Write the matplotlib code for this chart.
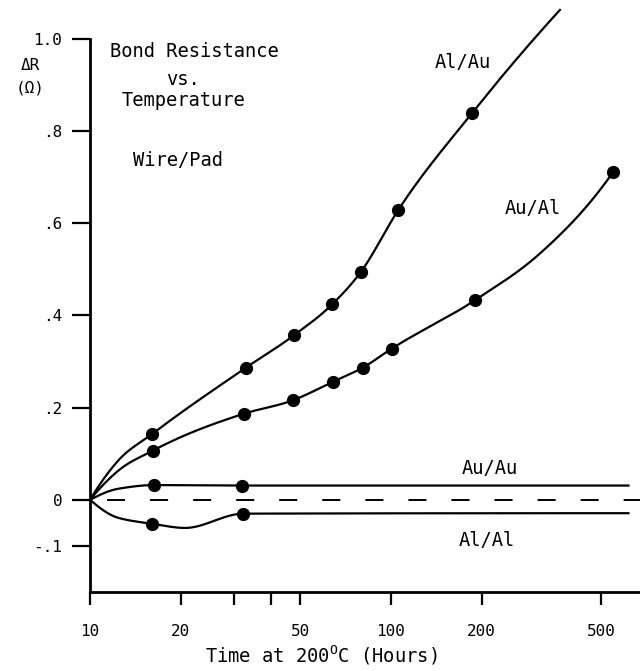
import numpy as np
import matplotlib
matplotlib.use("Agg")
import matplotlib.pyplot as plt
from matplotlib.ticker import FixedLocator, NullFormatter

plt.rcParams['font.family'] = ['DejaVu Sans Mono', 'DejaVu Sans']
plt.rcParams['mathtext.fontset'] = 'custom'
plt.rcParams['mathtext.rm'] = 'DejaVu Sans Mono'
plt.rcParams['lines.scale_dashes'] = False

# measured points: hours at 200 C, delta R (ohm)
alau_hours = [16.1, 33.0, 47.6, 63.7, 79.3, 105.5, 185.7]
alau_dr = [0.143, 0.287, 0.357, 0.424, 0.494, 0.628, 0.839]
aual_hours = [16.2, 32.5, 47.2, 64.1, 80.7, 100.5, 190.0, 547.0]
aual_dr = [0.107, 0.187, 0.216, 0.256, 0.287, 0.328, 0.433, 0.711]
auau_hours = [16.3, 32.0]
auau_dr = [0.032, 0.031]
alal_hours = [16.1, 32.3]
alal_dr = [-0.052, -0.030]

# extra points (start, bends, ends)
alau_trace_hours = [10.0, 12.4, 364.0]
alau_trace_dr = [0.0, 0.085, 1.063]
aual_trace_hours = [10.0, 12.4, 313.0, 494.0]
aual_trace_dr = [0.0, 0.063, 0.535, 0.672]
auau_trace_hours = [10.0, 12.4, 615.0]
auau_trace_dr = [0.0, 0.024, 0.031]
alal_trace_hours = [10.0, 12.4, 20.7, 615.0]
alal_trace_dr = [0.0, -0.039, -0.061, -0.029]

zero_line_from = 11.4

x_ticks = [10, 20, 50, 100, 200, 500]
x_minor = [30, 40]
y_ticks = [1.0, 0.8, 0.6, 0.4, 0.2, 0.0, -0.1]
y_labels = ['1.0', '.8', '.6', '.4', '.2', '0', '-.1']


def hermite(x, y, xs, limited):
    # cubic hermite through the points; limited=True keeps flat parts flat
    x = np.asarray(x, float)
    y = np.asarray(y, float)
    h = np.diff(x)
    d = np.diff(y) / h
    n = len(x)
    m = np.zeros(n)
    for i in range(1, n - 1):
        if limited:
            if d[i - 1] * d[i] > 0:
                w1 = 2 * h[i] + h[i - 1]
                w2 = h[i] + 2 * h[i - 1]
                m[i] = (w1 + w2) / (w1 / d[i - 1] + w2 / d[i])
        else:
            m[i] = (d[i - 1] * h[i] + d[i] * h[i - 1]) / (h[i - 1] + h[i])

    def end(h0, h1, d0, d1):
        mm = ((2 * h0 + h1) * d0 - h0 * d1) / (h0 + h1)
        if np.sign(mm) != np.sign(d0):
            mm = 0.0
        elif np.sign(d0) != np.sign(d1) and abs(mm) > 3 * abs(d0):
            mm = 3 * d0
        return mm

    m[0] = end(h[0], h[1], d[0], d[1])
    m[-1] = end(h[-1], h[-2], d[-1], d[-2])
    k = np.clip(np.searchsorted(x, xs) - 1, 0, n - 2)
    t = (xs - x[k]) / h[k]
    h00 = 2 * t**3 - 3 * t**2 + 1
    h10 = t**3 - 2 * t**2 + t
    h01 = -2 * t**3 + 3 * t**2
    h11 = t**3 - t**2
    return h00 * y[k] + h10 * h[k] * m[k] + h01 * y[k + 1] + h11 * h[k] * m[k + 1]


def draw_series(ax, hours, dr, trace_hours, trace_dr, limited=False):
    hx = np.concatenate([hours, trace_hours])
    hy = np.concatenate([dr, trace_dr])
    order = np.argsort(hx)
    u = np.log10(hx[order])
    uu = np.linspace(u[0], u[-1], 400)
    ax.plot(10**uu, hermite(u, hy[order], uu, limited), color='black', lw=1.6,
            clip_on=False)
    ax.plot(hours, dr, 'o', color='black', ms=8.5, zorder=3, clip_on=False)


fig = plt.figure(figsize=(6.4, 6.71), dpi=100)
ax = fig.add_axes([90 / 640, 79 / 671, 550 / 640, 553 / 671])

x_max = 10 ** (1 + 550 / 301)
ax.set_xscale('log')
ax.set_xlim(10, x_max)
ax.set_ylim(-0.2, 1.0)

draw_series(ax, alau_hours, alau_dr, alau_trace_hours, alau_trace_dr)
draw_series(ax, aual_hours, aual_dr, aual_trace_hours, aual_trace_dr)
draw_series(ax, auau_hours, auau_dr, auau_trace_hours, auau_trace_dr, limited=True)
draw_series(ax, alal_hours, alal_dr, alal_trace_hours, alal_trace_dr, limited=True)

ax.plot([zero_line_from, x_max], [0, 0], color='black', lw=1.4, dashes=(13, 18))

for s in ['top', 'right']:
    ax.spines[s].set_visible(False)
for s in ['left', 'bottom']:
    ax.spines[s].set_linewidth(2)

ax.xaxis.set_major_locator(FixedLocator(x_ticks))
ax.xaxis.set_minor_locator(FixedLocator(x_minor))
ax.xaxis.set_minor_formatter(NullFormatter())
ax.set_xticklabels([str(v) for v in x_ticks])
ax.set_yticks(y_ticks)
ax.set_yticklabels(y_labels)
ax.tick_params(axis='x', which='both', direction='out', length=9, width=1.6,
               pad=14, labelsize=11.5)
ax.tick_params(axis='y', direction='out', length=13, width=1.6, pad=7,
               labelsize=11.5)

lbl = dict(fontsize=13.5, ha='center', va='center')
ax.text(22.3, 0.972, 'Bond Resistance', **lbl)
ax.text(20.4, 0.913, 'vs.', **lbl)
ax.text(20.4, 0.867, 'Temperature', **lbl)
ax.text(19.6, 0.737, 'Wire/Pad', **lbl)
ax.text(173, 0.948, 'Al/Au', **lbl)
ax.text(296, 0.633, 'Au/Al', **lbl)
ax.text(213, 0.067, 'Au/Au', **lbl)
ax.text(208, -0.089, 'Al/Al', **lbl)

fig.text(30 / 640, 1 - 65 / 671, '\u0394R', fontsize=11.5, ha='center', va='center')
fig.text(30 / 640, 1 - 88 / 671, '(\u03a9)', fontsize=11.5, ha='center', va='center')
fig.text(321 / 640, 1 - 655 / 671, 'Time at 200$^{\\mathrm{O}}$C (Hours)',
         fontsize=13.5, ha='center', va='center')

fig.savefig('out.png', dpi=100)
